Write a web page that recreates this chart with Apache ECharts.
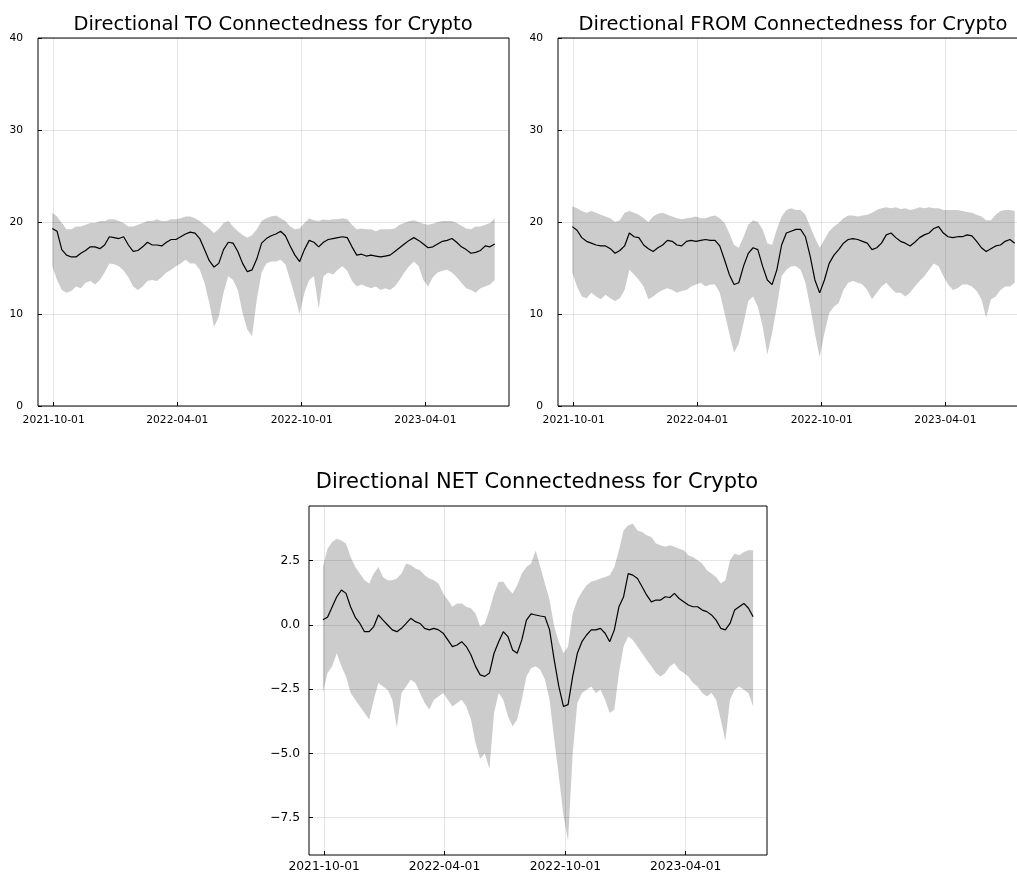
<!DOCTYPE html>
<html>
<head>
<meta charset="utf-8">
<title>Directional Connectedness for Crypto</title>
<script src="https://cdn.jsdelivr.net/npm/echarts@6/dist/echarts.min.js"></script>
<style>
  html, body { margin: 0; padding: 0; background: #ffffff; }
  #chart { width: 1017px; height: 873px; }
</style>
</head>
<body>
<div id="chart"></div>
<script>
// Weekly observations, first one on this date
const firstDate = '2021-09-29';
const stepDays = 7;

// Dates marked on every time axis
const tickDates = ['2021-10-01', '2022-04-01', '2022-10-01', '2023-04-01'];
const axisStart = '2021-09-08';
const axisEnd = '2023-08-02';

// Directional TO connectedness: mean, lower and upper envelope
const toMean = [19.3,19.0,17.0,16.4,16.2,16.2,16.6,16.9,17.3,17.3,
  17.1,17.5,18.4,18.3,18.2,18.4,17.5,16.8,16.9,17.3,
  17.8,17.5,17.5,17.4,17.8,18.1,18.1,18.4,18.7,18.9,
  18.8,18.2,17.0,15.8,15.1,15.5,17.0,17.8,17.7,16.8,
  15.5,14.6,14.8,16.0,17.7,18.2,18.5,18.7,19.0,18.5,
  17.4,16.4,15.7,17.0,18.0,17.8,17.3,17.8,18.1,18.2,
  18.3,18.4,18.3,17.3,16.4,16.5,16.3,16.4,16.3,16.2,
  16.3,16.4,16.8,17.2,17.6,18.0,18.3,18.0,17.6,17.2,
  17.3,17.6,17.9,18.0,18.2,17.8,17.3,17.0,16.6,16.7,
  16.9,17.4,17.3,17.6];
const toLow = [15.2,13.7,12.6,12.3,12.5,13.0,12.8,13.4,13.6,13.2,
  13.7,14.5,15.5,15.4,15.2,14.7,14.0,13.0,12.6,13.0,
  13.6,13.7,13.6,14.0,14.5,14.8,15.2,15.5,15.9,15.5,
  15.5,14.8,13.4,11.2,8.6,9.7,12.3,14.1,13.7,12.6,
  10.1,8.3,7.6,11.6,14.5,15.5,15.7,15.7,15.9,15.4,
  13.7,11.9,10.0,12.3,13.7,14.1,10.6,14.1,14.5,14.3,
  14.8,15.2,14.7,13.6,13.0,13.2,13.0,12.8,13.0,12.6,
  12.8,12.6,13.0,13.7,14.5,15.2,15.7,15.2,13.7,13.0,
  14.0,14.5,14.7,14.8,14.5,14.0,13.4,12.8,12.6,12.3,
  12.8,13.0,13.2,13.7];
const toHigh = [21.0,20.6,19.9,19.2,19.2,19.5,19.5,19.7,19.9,19.9,
  20.1,20.1,20.3,20.3,20.1,19.9,19.5,19.5,19.7,19.9,
  20.1,20.1,20.3,20.1,20.1,20.3,20.3,20.4,20.6,20.6,
  20.4,20.1,19.7,19.3,18.8,19.2,19.9,20.1,19.5,19.0,
  18.6,18.3,18.6,19.2,20.1,20.4,20.6,20.7,20.4,20.1,
  19.5,19.2,19.3,19.9,20.4,20.2,20.1,20.3,20.2,20.3,
  20.3,20.4,20.3,19.7,19.2,19.3,19.2,19.2,19.0,19.2,
  19.2,19.2,19.3,19.7,19.9,20.1,20.2,20.0,19.8,19.7,
  19.8,20.0,20.1,20.1,20.1,19.9,19.6,19.3,19.2,19.5,
  19.5,19.7,19.9,20.4];

// Directional FROM connectedness
const fromMean = [19.5,19.1,18.3,17.9,17.7,17.5,17.4,17.4,17.1,16.6,
  16.9,17.4,18.8,18.4,18.3,17.5,17.1,16.8,17.2,17.5,
  18.0,17.9,17.5,17.4,17.9,18.0,17.9,18.0,18.1,18.0,
  18.0,17.4,15.9,14.3,13.2,13.4,15.2,16.6,17.2,17.0,
  15.2,13.7,13.2,14.8,17.5,18.8,19.0,19.2,19.2,18.4,
  16.3,13.7,12.3,13.7,15.5,16.4,17.0,17.7,18.1,18.2,
  18.1,17.9,17.7,17.0,17.2,17.7,18.6,18.8,18.3,17.9,
  17.7,17.4,17.8,18.3,18.6,18.8,19.3,19.5,18.8,18.4,
  18.3,18.4,18.4,18.6,18.5,17.9,17.2,16.8,17.1,17.4,
  17.5,17.9,18.1,17.7];
const fromLow = [14.5,13.0,11.9,11.7,12.3,11.9,11.6,12.1,11.7,11.4,
  11.7,12.6,14.8,14.3,13.7,13.0,11.6,11.9,12.3,12.6,
  12.8,12.6,12.3,12.5,12.6,13.0,13.2,13.4,13.0,13.2,
  13.2,12.3,10.1,7.9,5.8,6.8,9.0,11.4,11.9,10.8,
  8.7,5.6,7.9,10.8,14.1,14.8,15.2,15.2,14.8,13.4,
  10.8,7.9,5.3,7.9,10.1,10.8,11.2,12.6,13.4,13.6,
  13.4,13.2,12.6,11.6,12.3,13.0,13.4,12.8,12.3,12.3,
  11.9,12.3,13.0,13.6,14.1,14.8,15.5,15.2,14.1,13.2,
  12.6,12.8,13.2,13.2,13.0,12.5,11.6,9.6,11.6,11.9,
  12.6,13.0,13.0,13.4];
const fromHigh = [21.7,21.5,21.2,21.0,21.2,21.0,20.8,20.6,20.4,20.0,
  20.2,21.0,21.2,21.0,20.8,20.4,20.0,20.6,20.9,21.0,
  20.8,20.6,20.4,20.3,20.4,20.5,20.6,20.4,20.4,20.6,
  20.7,20.4,19.9,18.8,17.5,17.2,18.4,19.7,20.2,20.0,
  19.2,17.7,17.5,19.2,20.6,21.3,21.5,21.3,21.3,20.8,
  19.5,18.3,17.2,18.1,19.0,19.5,19.9,20.4,20.7,20.7,
  20.6,20.7,20.8,21.0,21.3,21.5,21.6,21.5,21.6,21.4,
  21.5,21.3,21.4,21.6,21.5,21.6,21.5,21.5,21.3,21.3,
  21.3,21.3,21.2,21.1,21.0,20.8,20.6,20.2,20.2,20.8,
  21.2,21.3,21.3,21.2];

// Directional NET connectedness
const netMean = [0.2,0.3,0.7,1.1,1.36,1.23,0.7,0.3,0.06,-0.26,
  -0.26,-0.06,0.39,0.19,0.0,-0.19,-0.26,-0.13,0.06,0.26,
  0.13,0.06,-0.13,-0.19,-0.13,-0.19,-0.32,-0.58,-0.84,-0.78,
  -0.65,-0.84,-1.16,-1.61,-1.94,-2.0,-1.87,-1.10,-0.65,-0.26,
  -0.45,-0.97,-1.10,-0.58,0.19,0.43,0.39,0.35,0.32,-0.19,
  -1.36,-2.39,-3.17,-3.10,-2.0,-1.10,-0.65,-0.39,-0.19,-0.19,
  -0.13,-0.32,-0.65,-0.19,0.71,1.10,2.0,1.94,1.81,1.49,
  1.16,0.90,0.97,0.97,1.10,1.07,1.23,1.03,0.90,0.78,
  0.71,0.71,0.58,0.52,0.39,0.19,-0.13,-0.19,0.06,0.58,
  0.71,0.84,0.65,0.32];
const netLow = [-2.65,-1.87,-1.61,-1.10,-1.61,-2.0,-2.65,-2.91,-3.17,-3.42,
  -3.68,-2.91,-2.26,-2.39,-2.52,-2.91,-4.0,-2.65,-2.39,-2.13,
  -2.26,-2.65,-3.04,-3.29,-2.91,-2.78,-2.65,-2.91,-3.17,-3.04,
  -2.91,-3.17,-3.68,-4.59,-5.2,-5.0,-5.6,-3.42,-2.65,-2.91,
  -3.55,-3.94,-3.68,-2.91,-2.0,-1.68,-1.61,-1.74,-2.13,-2.91,
  -4.46,-5.88,-7.4,-8.4,-5.0,-3.04,-2.65,-2.52,-2.39,-2.65,
  -2.52,-2.91,-3.42,-3.29,-1.87,-0.84,-0.45,-0.58,-0.84,-1.10,
  -1.36,-1.61,-1.87,-2.0,-1.87,-1.61,-1.49,-1.74,-1.87,-2.0,
  -2.26,-2.39,-2.65,-2.78,-2.65,-2.91,-3.68,-4.5,-2.91,-2.52,
  -2.39,-2.52,-2.65,-3.17];
const netHigh = [2.26,2.97,3.23,3.36,3.29,3.17,2.65,2.26,2.0,1.74,
  1.61,2.0,2.26,1.87,1.74,1.74,1.81,2.0,2.39,2.33,
  2.20,2.13,1.94,1.81,1.74,1.61,1.23,0.97,0.71,0.84,
  0.84,0.71,0.65,0.45,-0.06,0.06,0.58,1.23,1.68,1.68,
  1.42,1.23,1.55,2.0,2.26,2.39,2.9,2.26,1.61,0.97,
  -0.06,-0.65,-1.10,-0.84,0.45,0.97,1.29,1.55,1.68,1.74,
  1.81,1.87,1.94,2.26,2.91,3.68,3.88,3.94,3.68,3.62,
  3.49,3.42,3.17,3.10,3.04,3.10,3.04,2.97,2.91,2.71,
  2.65,2.52,2.39,2.13,2.0,1.87,1.61,1.74,2.52,2.78,
  2.71,2.84,2.91,2.91];

const netTicks = [-7.5, -5.0, -2.5, 0.0, 2.5];

const DAY = 86400000;
const utc = s => Date.parse(s + 'T00:00:00Z');
const t0 = utc(firstDate);
const times = toMean.map((_, i) => t0 + i * stepDays * DAY);
const tickTimes = tickDates.map(utc);

const FONT = 'DejaVu Sans';
const BAND = 'rgba(0,0,0,0.2)';
const GRIDLINE = 'rgba(0,0,0,0.10)';

function pad2(n) { return (n < 10 ? '0' : '') + n; }
function fmtDate(v) {
  const d = new Date(v);
  return d.getUTCFullYear() + '-' + pad2(d.getUTCMonth() + 1) + '-' + pad2(d.getUTCDate());
}

// Dates are plotted as millisecond timestamps on a numeric axis
function xAxisFor(gi, fontSize, margin) {
  return {
    type: 'value', gridIndex: gi,
    min: utc(axisStart), max: utc(axisEnd), scale: true,
    axisLine: { show: false, onZero: false },
    axisTick: { show: true, inside: true, length: 4, customValues: tickTimes,
                lineStyle: { color: '#000', width: 1 } },
    axisLabel: { customValues: tickTimes, formatter: fmtDate, margin: margin,
                 fontFamily: FONT, fontSize: fontSize, color: '#000' },
    splitLine: { show: true, lineStyle: { color: GRIDLINE, width: 1 } }
  };
}

// Translucent min-max envelope plus the mean line
function bandSeries(gi, low, high, mean) {
  return [
    { type: 'custom', xAxisIndex: gi, yAxisIndex: gi, silent: true, clip: true, z: 1,
      data: times.map((t, i) => [t, low[i], high[i]]),
      encode: { x: 0, y: [1, 2] },
      renderItem: function (params, api) {
        if (params.dataIndex !== 0) return null;
        const pts = [];
        for (let i = 0; i < times.length; i++) pts.push(api.coord([times[i], high[i]]));
        for (let i = times.length - 1; i >= 0; i--) pts.push(api.coord([times[i], low[i]]));
        return { type: 'polygon', shape: { points: pts }, style: { fill: BAND, stroke: null } };
      } },
    { type: 'line', xAxisIndex: gi, yAxisIndex: gi,
      data: times.map((t, i) => [t, mean[i]]), symbol: 'none', silent: true,
      lineStyle: { color: '#000', width: 1.2 }, z: 3 }
  ];
}

const gridBase = { show: true, borderColor: '#000', borderWidth: 1,
                   backgroundColor: 'transparent', containLabel: false, outerBoundsMode: 'none' };

const chart = echarts.init(document.getElementById('chart'), null, { renderer: 'canvas' });

chart.setOption({
  animation: false,
  backgroundColor: '#ffffff',
  title: [
    { text: 'Directional TO Connectedness for Crypto', left: 273, top: 15, padding: 0,
      textAlign: 'center', textStyle: { fontFamily: FONT, fontSize: 19.5, fontWeight: 'normal', color: '#000' } },
    { text: 'Directional FROM Connectedness for Crypto', left: 793, top: 15, padding: 0,
      textAlign: 'center', textStyle: { fontFamily: FONT, fontSize: 19.5, fontWeight: 'normal', color: '#000' } },
    { text: 'Directional NET Connectedness for Crypto', left: 537, top: 472, padding: 0,
      textAlign: 'center', textStyle: { fontFamily: FONT, fontSize: 21, fontWeight: 'normal', color: '#000' } }
  ],
  grid: [
    Object.assign({ left: 38, top: 38, width: 471, height: 368 }, gridBase),
    Object.assign({ left: 558, top: 38, width: 471, height: 368 }, gridBase),
    Object.assign({ left: 309, top: 506, width: 458, height: 349 }, gridBase)
  ],
  xAxis: [xAxisFor(0, 10.7, 9), xAxisFor(1, 10.7, 9), xAxisFor(2, 12.3, 6)],
  yAxis: [0, 1].map(gi => ({
    type: 'value', gridIndex: gi, min: 0, max: 40, interval: 10,
    axisLine: { show: false },
    axisTick: { show: true, inside: true, length: 4, lineStyle: { color: '#000', width: 1 } },
    axisLabel: { margin: 15, fontFamily: FONT, fontSize: 10.7, color: '#000' },
    splitLine: { show: true, lineStyle: { color: GRIDLINE, width: 1 } }
  })).concat([{
    type: 'value', gridIndex: 2, min: -8.95, max: 4.63,
    axisLine: { show: false, onZero: false },
    axisTick: { show: true, inside: true, length: 4, customValues: netTicks,
                lineStyle: { color: '#000', width: 1 } },
    axisLabel: { customValues: netTicks, margin: 9, fontFamily: FONT, fontSize: 12.3, color: '#000',
                 formatter: v => v.toFixed(1).replace('-', '\u2212') },
    splitLine: { show: true, lineStyle: { color: GRIDLINE, width: 1 } }
  }]),
  series: [].concat(
    bandSeries(0, toLow, toHigh, toMean),
    bandSeries(1, fromLow, fromHigh, fromMean),
    bandSeries(2, netLow, netHigh, netMean)
  )
});
</script>
</body>
</html>
